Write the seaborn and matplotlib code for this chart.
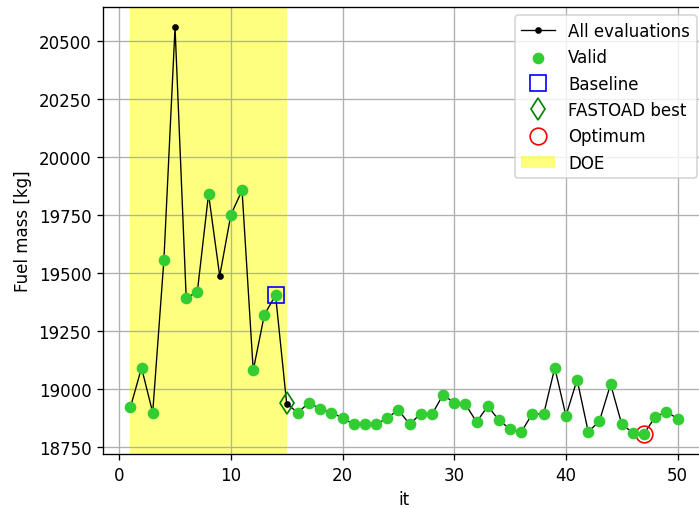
import numpy as np
import matplotlib
matplotlib.use("Agg")
import matplotlib.pyplot as plt
import seaborn as sns

# -----------------------------
# Dados
# -----------------------------
iterations = list(range(1, 51))
fuel_mass = [
    18919, 19090, 18897, 19553, 20558, 19389, 19419, 19839, 19486, 19750,
    19855, 19079, 19319, 19403, 18934, 18897, 18940, 18912, 18897, 18874,
    18846, 18846, 18846, 18874, 18909, 18846, 18893, 18889, 18974, 18939,
    18933, 18856, 18925, 18864, 18826, 18813, 18893, 18889, 19090, 18883,
    19039, 18813, 18861, 19019, 18846, 18810, 18806, 18879, 18900, 18871,
]
invalid_its = [5, 9, 15]

baseline_it = [14]
baseline_mass = [19403]
fastoad_it = [15]
fastoad_mass = [18937]
optimum_it = [47]
optimum_mass = [18806]

doe_start, doe_end = 1, 15

valid_it = [i for i in iterations if i not in invalid_its]
valid_mass = [m for i, m in zip(iterations, fuel_mass) if i not in invalid_its]

# -----------------------------
# Plot
# -----------------------------
dpi = 120
fig, ax = plt.subplots(figsize=(699 / dpi, 509 / dpi), dpi=dpi)
fig.subplots_adjust(left=103 / 699, right=705 / 699, top=1 - 8 / 509, bottom=1 - 455 / 509)

sns.lineplot(x=iterations, y=fuel_mass, color="k", marker=".", markersize=6,
             markeredgecolor="k", markeredgewidth=1, linewidth=0.8,
             label="All evaluations", ax=ax)
sns.scatterplot(x=valid_it, y=valid_mass, color="limegreen", s=49, linewidth=0,
                label="Valid", ax=ax, zorder=3)
ax.plot(baseline_it, baseline_mass, "s", color="b", mfc="none", ms=10, label="Baseline")
ax.plot(fastoad_it, fastoad_mass, "d", color="g", mfc="none", ms=9.5, label="FASTOAD best")
ax.plot(optimum_it, optimum_mass, "o", color="r", mfc="none", ms=10, label="Optimum")
ax.axvspan(doe_start, doe_end, color="yellow", alpha=0.5, lw=0, label="DOE")

ax.set_xlabel("it")
ax.set_ylabel("Fuel mass [kg]")
ax.grid(True)
ax.legend(loc="upper right")

fig.savefig("out.png", dpi=dpi)
